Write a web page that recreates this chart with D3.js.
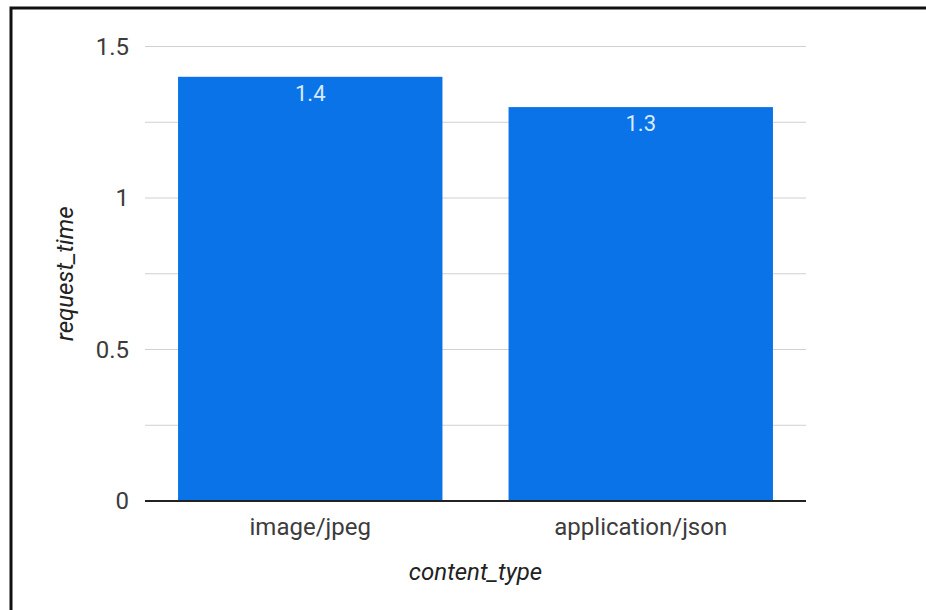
<!DOCTYPE html>
<html>
<head>
<meta charset="utf-8">
<script src="https://cdn.jsdelivr.net/npm/d3@7"></script>
<style>
  html, body { margin: 0; padding: 0; background: #fff; }
  svg { display: block; font-family: Roboto, "Noto Sans", sans-serif; }
</style>
</head>
<body>
<svg id="chart" width="926" height="610"></svg>
<script>
// Average request time per content type
const categories = ["image/jpeg", "application/json"];
const requestTime = [1.4, 1.3];
const yTicks = [0, 0.5, 1, 1.5];
const yGrid = [0, 0.25, 0.5, 0.75, 1, 1.25, 1.5];

const svg = d3.select("#chart");
const W = 926, H = 610;
const margin = { left: 145, right: 120, top: 46.5, bottom: 109 };

// outer frame (left and top edges)
svg.append("path")
  .attr("d", `M11,${H} L11,8 L${W},8`)
  .attr("fill", "none")
  .attr("stroke", "#111")
  .attr("stroke-width", 3);

const x = d3.scaleBand()
  .domain(categories)
  .range([margin.left, W - margin.right])
  .paddingInner(0.2)
  .paddingOuter(0.1);

const y = d3.scaleLinear()
  .domain([0, 1.5])
  .range([H - margin.bottom, margin.top]);

// horizontal gridlines
svg.append("g")
  .selectAll("line")
  .data(yGrid.filter(d => d !== 0))
  .join("line")
  .attr("x1", margin.left)
  .attr("x2", W - margin.right)
  .attr("y1", d => y(d))
  .attr("y2", d => y(d))
  .attr("stroke", "#d0d0d0")
  .attr("stroke-width", 1);

// y axis labels
const yAxis = d3.axisLeft(y)
  .tickValues(yTicks)
  .tickFormat(d3.format("~g"))
  .tickSize(0)
  .tickPadding(16);
const gy = svg.append("g")
  .attr("transform", `translate(${margin.left},0)`)
  .call(yAxis);
gy.select(".domain").remove();
gy.selectAll("text")
  .attr("font-size", 24)
  .attr("fill", "#3c3c3c")
  .attr("font-family", "Roboto, sans-serif");

// bars
svg.append("g")
  .selectAll("rect")
  .data(categories)
  .join("rect")
  .attr("x", d => x(d))
  .attr("width", x.bandwidth())
  .attr("y", (d, i) => y(requestTime[i]))
  .attr("height", (d, i) => y(0) - y(requestTime[i]))
  .attr("fill", "#0a73e8");

// value labels inside bars
svg.append("g")
  .selectAll("text")
  .data(categories)
  .join("text")
  .attr("x", d => x(d) + x.bandwidth() / 2)
  .attr("y", (d, i) => y(requestTime[i]) + 24)
  .attr("text-anchor", "middle")
  .attr("font-size", 22)
  .attr("fill", "#d8ebff")
  .text((d, i) => d3.format("~g")(requestTime[i]));

// x axis baseline and labels
const xAxis = d3.axisBottom(x).tickSize(0).tickPadding(17);
const gx = svg.append("g")
  .attr("transform", `translate(0,${y(0)})`)
  .call(xAxis);
gx.select(".domain")
  .attr("stroke", "#222")
  .attr("stroke-width", 2)
  .attr("d", `M${margin.left},0H${W - margin.right}`);
gx.selectAll("text")
  .attr("font-size", 24)
  .attr("fill", "#3c3c3c")
  .attr("font-family", "Roboto, sans-serif");

// axis titles
svg.append("text")
  .attr("x", (margin.left + W - margin.right) / 2)
  .attr("y", 580)
  .attr("text-anchor", "middle")
  .attr("font-size", 24)
  .attr("font-style", "italic")
  .attr("fill", "#222")
  .text("content_type");

svg.append("text")
  .attr("transform", `translate(73,${(y(0) + y(1.5)) / 2}) rotate(-90)`)
  .attr("text-anchor", "middle")
  .attr("font-size", 24)
  .attr("font-style", "italic")
  .attr("fill", "#222")
  .text("request_time");
</script>
</body>
</html>
